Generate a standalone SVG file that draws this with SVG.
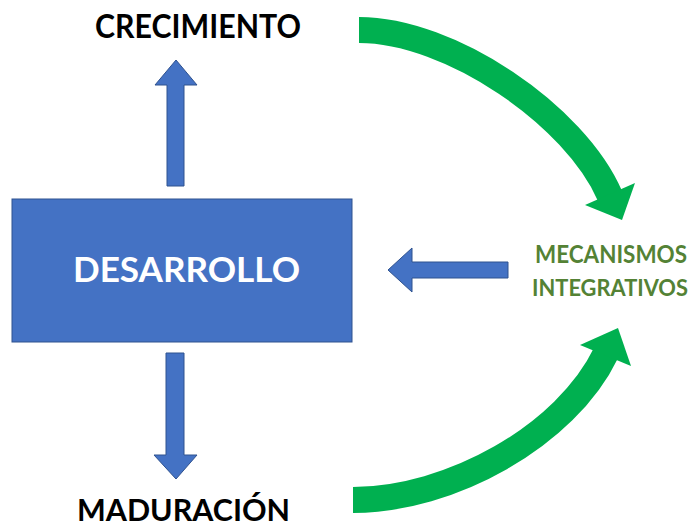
<svg xmlns="http://www.w3.org/2000/svg" width="697" height="527" viewBox="0 0 697 527">
<style>
.blue{fill:#4472C4;stroke:#2F528F;stroke-width:1}
.green{fill:#00B050}
.shaft{fill:none;stroke:#00B050;stroke-width:26}
.lbl{font-family:"Lato","Liberation Sans",sans-serif;font-weight:bold;text-anchor:middle}
</style>
<rect width="697" height="527" fill="#ffffff"/>
<g id="desarrollo">
<rect class="blue" x="12" y="199" width="340" height="143"/>
<text class="lbl" x="186.5" y="282" font-size="35" fill="#ffffff" textLength="227" lengthAdjust="spacingAndGlyphs">DESARROLLO</text>
</g>
<g id="crecimiento">
<text class="lbl" x="198" y="38" font-size="32" fill="#000000" textLength="206" lengthAdjust="spacingAndGlyphs">CRECIMIENTO</text>
</g>
<g id="maduracion">
<text class="lbl" x="183.5" y="521" font-size="31" fill="#000000" textLength="213" lengthAdjust="spacingAndGlyphs">MADURACIÓN</text>
</g>
<g id="mecanismos">
<text class="lbl" x="611" y="263" font-size="24" fill="#548235" textLength="152" lengthAdjust="spacingAndGlyphs">MECANISMOS</text>
<text class="lbl" x="610" y="296" font-size="23" fill="#548235" textLength="156" lengthAdjust="spacingAndGlyphs">INTEGRATIVOS</text>
</g>
<g id="connectors">
<polygon class="blue" points="176,60 197,85 184,85 184,186 167,186 167,85 155,85"/>
<polygon class="blue" points="166,353 184,353 184,455 197,455 176,479 154,455 166,455"/>
<polygon class="blue" points="388,270 412,248 412,262 508,262 508,278 412,278 412,292"/>
<path class="shaft" d="M359,30 C450,30 575,115 610,196"/>
<polygon class="green" points="585,205 635,183 622,220"/>
<path class="shaft" d="M353,500 C450,500 566,436 606,353"/>
<polygon class="green" points="580,345 618,328 631,366"/>
</g>
</svg>
